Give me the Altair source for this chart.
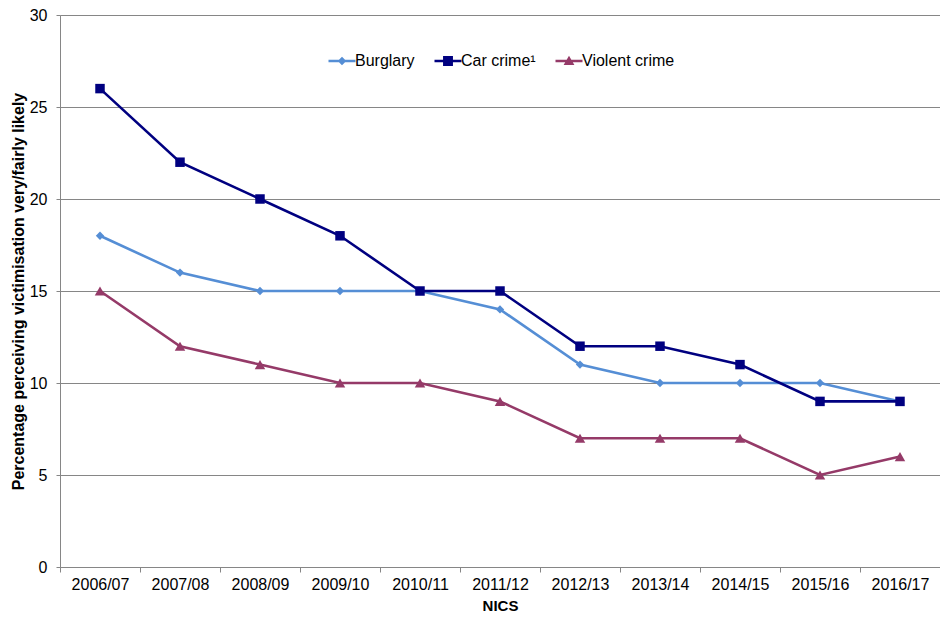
import altair as alt
import pandas as pd

years = ["2006/07", "2007/08", "2008/09", "2009/10", "2010/11", "2011/12",
         "2012/13", "2013/14", "2014/15", "2015/16", "2016/17"]
burglary = [18, 16, 15, 15, 15, 14, 11, 10, 10, 10, 9]
car_crime = [26, 22, 20, 18, 15, 15, 12, 12, 11, 9, 9]
violent = [15, 12, 11, 10, 10, 9, 7, 7, 7, 5, 6]

series_names = ["Burglary", "Car crime\u00b9", "Violent crime"]
series_colors = ["#558ED5", "#000080", "#953A68"]
series_shapes = ["diamond", "square", "triangle-up"]
series_sizes = [70, 110, 100]

rows = []
for name, vals in zip(series_names, [burglary, car_crime, violent]):
    for i, (yr, v) in enumerate(zip(years, vals)):
        rows.append({"Year": yr, "Value": v, "Series": name,
                     "Order": series_names.index(name)})
df = pd.DataFrame(rows)

# Legend symbols: line segment with marker
legend_paths = [
    "M-3,-0.28H3V0.28H-3Z M0,-0.95L0.95,0L0,0.95L-0.95,0Z",
    "M-3,-0.28H3V0.28H-3Z M-1.1,-1.1H1.1V1.1H-1.1Z",
    "M-3,-0.28H3V0.28H-3Z M0,-1.15L1.2,0.9H-1.2Z",
]

FONT = "Liberation Sans"
GRID = "#868686"

x_enc = alt.X("Year:N", sort=years, bandPosition=0.5,
              scale=alt.Scale(type="band", paddingInner=0, paddingOuter=0),
              axis=alt.Axis(title="NICS", labelAngle=0, tickBand="extent",
                            grid=False, domainColor=GRID, tickColor=GRID,
                            tickSize=5, labelFontSize=16, labelPadding=4,
                            labelColor="#000000", titleFontSize=15,
                            titleFontWeight="bold", titlePadding=6,
                            titleColor="#000000"))
y_enc = alt.Y("Value:Q", scale=alt.Scale(domain=[0, 30], nice=False),
              axis=alt.Axis(title="Percentage perceiving victimisation very/fairly likely",
                            values=[0, 5, 10, 15, 20, 25, 30],
                            gridColor=GRID, domainColor=GRID, tickColor=GRID,
                            tickSize=4, labelFontSize=16, labelPadding=9,
                            labelColor="#000000", titleFontSize=16,
                            titleFontWeight="bold", titlePadding=3,
                            titleColor="#000000"))

color_nolegend = alt.Color("Series:N", scale=alt.Scale(domain=series_names, range=series_colors),
                           legend=None)

lines = alt.Chart(df).mark_line(strokeWidth=2.6).encode(
    x=x_enc, y=y_enc, color=color_nolegend, detail="Series:N",
    order=alt.Order("Order:Q"),
)

points = alt.Chart(df).mark_point(filled=True, opacity=1).encode(
    x=x_enc, y=y_enc, color=color_nolegend,
    shape=alt.Shape("Series:N", scale=alt.Scale(domain=series_names, range=series_shapes), legend=None),
    size=alt.Size("Series:N", scale=alt.Scale(domain=series_names, range=series_sizes), legend=None),
    order=alt.Order("Order:Q"),
)

legend_props = dict(title=None, orient="none", direction="horizontal",
                    legendX=274, legendY=38, symbolSize=81,
                    symbolStrokeWidth=0, labelOffset=5,
                    columnPadding=19, labelFontSize=16,
                    labelFont=FONT, labelColor="#000000")

legend_layer = alt.Chart(df).transform_filter("datum.Value < 0").mark_point(
    filled=True, opacity=1).encode(
    x=x_enc, y=y_enc,
    color=alt.Color("Series:N", scale=alt.Scale(domain=series_names, range=series_colors),
                    legend=alt.Legend(**legend_props)),
    shape=alt.Shape("Series:N", scale=alt.Scale(domain=series_names, range=legend_paths),
                    legend=alt.Legend(**legend_props)),
)

chart = alt.layer(lines, points, legend_layer).resolve_scale(
    color="independent", shape="independent", size="independent"
).properties(
    width=880, height=552,
    autosize=alt.AutoSizeParams(type="none"),
    padding={"left": 60, "top": 15, "right": 0, "bottom": 50},
    background="white",
).configure_view(stroke=None).configure(font=FONT).configure_axis(
    labelFont=FONT, titleFont=FONT
)

chart.save("out.html", embed_options={"renderer": "svg", "actions": False})
